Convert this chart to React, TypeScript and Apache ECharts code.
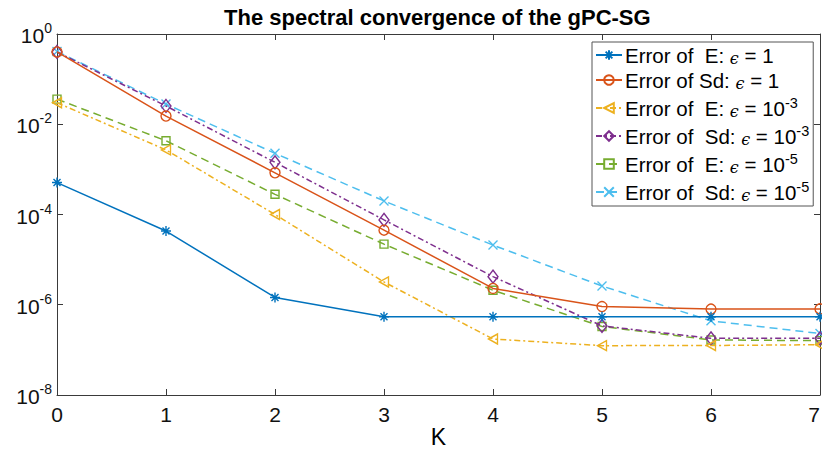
import React, { useEffect, useRef } from 'react';
import * as echarts from 'echarts';

const K = [0, 1, 2, 3, 4, 5, 6, 7];
const errE_eps1 = [5.1e-4, 4.3e-5, 1.45e-6, 5.4e-7, 5.4e-7, 5.4e-7, 5.4e-7, 5.4e-7];
const errSd_eps1 = [0.4, 0.0152, 8.4e-4, 4.5e-5, 2.3e-6, 9.1e-7, 8.0e-7, 8.1e-7];
const errE_eps3 = [0.03, 2.7e-3, 1.0e-4, 3.2e-6, 1.74e-7, 1.24e-7, 1.25e-7, 1.3e-7];
const errSd_eps3 = [0.4, 0.0254, 1.43e-3, 7.6e-5, 4.2e-6, 3.4e-7, 1.8e-7, 1.8e-7];
const errE_eps5 = [0.036, 4.3e-3, 2.8e-4, 2.2e-5, 2.1e-6, 3.3e-7, 1.66e-7, 1.6e-7];
const errSd_eps5 = [0.41, 0.028, 2.27e-3, 2.0e-4, 2.1e-5, 2.6e-6, 4.4e-7, 2.3e-7];

const seriesNames = [
  'Error of  E: ϵ = 1',
  'Error of Sd: ϵ = 1',
  'Error of  E: ϵ = 10^-3',
  'Error of  Sd: ϵ = 10^-3',
  'Error of  E: ϵ = 10^-5',
  'Error of  Sd: ϵ = 10^-5',
];
const seriesValues = [errE_eps1, errSd_eps1, errE_eps3, errSd_eps3, errE_eps5, errSd_eps5];
const titleText = 'The spectral convergence of the gPC-SG';
const xName = 'K';

const colors = ['#0072BD', '#D95319', '#EDB120', '#7E2F8E', '#77AC30', '#4DBEEE'];
const symbols: any[] = [
  'path://M5,0L5,10M0,5L10,5M1.5,1.5L8.5,8.5M1.5,8.5L8.5,1.5',
  'circle',
  'path://M0,5L10,0L10,10Z',
  'diamond',
  'rect',
  'path://M0,0L10,10M0,10L10,0',
];
const symbolSizes: any[] = [10, 10, [9, 10], [10, 13], 8, 9];
const dashes: any[] = ['solid', 'solid', [6, 3, 2, 3], [6, 3, 2, 3], [8, 5], [8, 5]];

const FONT = 'Liberation Sans, Arial, Helvetica, sans-serif';

function legendRich(name: string): string {
  const m = name.match(/^(.*?)ϵ = (.*)$/);
  if (!m) return `{t|${name}}`;
  const pre = m[1];
  const val = m[2];
  let valStr = `{t|${val}}`;
  const sm = val.match(/^10\^(.*)$/);
  if (sm) valStr = `{t|10}{s|${sm[1]}}`;
  return `{t|${pre}}{e|ϵ}{t| = }${valStr}`;
}

export default function App() {
  const ref = useRef<HTMLDivElement>(null);
  useEffect(() => {
    if (!ref.current) return;
    const chart = echarts.init(ref.current, undefined, { renderer: 'svg' });
    const axisColor = '#3a3a3a';
    const series = seriesNames.map((name, i) => ({
      name,
      type: 'line',
      data: K.map((k, j) => [k, seriesValues[i][j]]),
      symbol: symbols[i],
      symbolSize: symbolSizes[i],
      showAllSymbol: true,
      clip: false,
      lineStyle: { color: colors[i], width: 1.5, type: dashes[i] },
      itemStyle: { color: 'rgba(255,255,255,0)', borderColor: colors[i], borderWidth: 1.4 },
      emphasis: { disabled: true },
      z: 10 - i,
    }));
    const option: any = {
      animation: false,
      backgroundColor: '#ffffff',
      title: {
        text: titleText,
        left: 219,
        top: 1,
        textStyle: { fontFamily: FONT, fontSize: 22, fontWeight: 'bold', color: '#000' },
      },
      grid: { left: 57, right: 2, top: 34, bottom: 56, containLabel: false, outerBoundsMode: 'none' },
      legend: {
        orient: 'vertical',
        left: 592,
        top: 42,
        itemWidth: 26,
        itemHeight: 12,
        itemGap: 4,
        padding: [3, 4, 3, 3],
        backgroundColor: '#fff',
        borderColor: '#555',
        borderWidth: 1,
        borderRadius: 0,
        data: seriesNames,
        formatter: (n: string) => legendRich(n),
        textStyle: {
          fontFamily: FONT,
          fontSize: 20,
          color: '#000',
          padding: [0, 0, 0, -2],
          rich: {
            t: { fontFamily: FONT, fontSize: 20.5, color: '#000', verticalAlign: 'bottom', lineHeight: 22 },
            e: { fontFamily: 'DejaVu Serif', fontStyle: 'italic', fontSize: 16, color: '#000', verticalAlign: 'bottom', lineHeight: 22 },
            s: { fontFamily: FONT, fontSize: 14.5, color: '#000', verticalAlign: 'bottom', lineHeight: 22, padding: [0, 0, 9, 0] },
          },
        },
      },
      xAxis: [
        {
          type: 'value',
          min: 0,
          max: 7,
          interval: 1,
          name: xName,
          nameLocation: 'middle',
          nameGap: 30,
          nameMoveOverlap: false,
          nameTextStyle: { fontFamily: FONT, fontSize: 23, color: '#000', lineHeight: 23 },
          axisLine: { show: true, onZero: false, lineStyle: { color: axisColor, width: 1 } },
          axisTick: { show: true, inside: true, length: 6, lineStyle: { color: axisColor } },
          axisLabel: { fontFamily: FONT, fontSize: 21, color: '#111', margin: 9, hideOverlap: false, alignMaxLabel: 'right' },
          splitLine: { show: false },
        },
        {
          type: 'value',
          min: 0,
          max: 7,
          interval: 1,
          position: 'top',
          axisLine: { show: true, onZero: false, lineStyle: { color: axisColor, width: 1 } },
          axisTick: { show: true, inside: true, length: 6, lineStyle: { color: axisColor } },
          axisLabel: { show: false },
          splitLine: { show: false },
        },
      ],
      yAxis: [
        {
          type: 'log',
          logBase: 10,
          min: 1e-8,
          max: 1,
          interval: 2,
          axisLine: { show: true, onZero: false, lineStyle: { color: axisColor, width: 1 } },
          axisTick: { show: true, inside: true, length: 6, lineStyle: { color: axisColor } },
          axisLabel: {
            margin: 5,
            formatter: (v: number) => `{b|10}{s|${Math.round(Math.log10(v))}}`,
            rich: {
              b: { fontFamily: FONT, fontSize: 21, color: '#111', verticalAlign: 'bottom', lineHeight: 24 },
              s: { fontFamily: FONT, fontSize: 14, color: '#111', verticalAlign: 'bottom', lineHeight: 24, padding: [0, 0, 11, 0] },
            },
          },
          splitLine: { show: false },
          minorTick: { show: false },
        },
        {
          type: 'log',
          logBase: 10,
          min: 1e-8,
          max: 1,
          interval: 2,
          position: 'right',
          axisLine: { show: true, onZero: false, lineStyle: { color: axisColor, width: 1 } },
          axisTick: { show: true, inside: true, length: 6, lineStyle: { color: axisColor } },
          axisLabel: { show: false },
          splitLine: { show: false },
        },
      ],
      series,
    };
    chart.setOption(option);
    return () => chart.dispose();
  }, []);
  return <div ref={ref} style={{ width: 822, height: 451, position: 'absolute', left: 0, top: 0 }} />;
}
